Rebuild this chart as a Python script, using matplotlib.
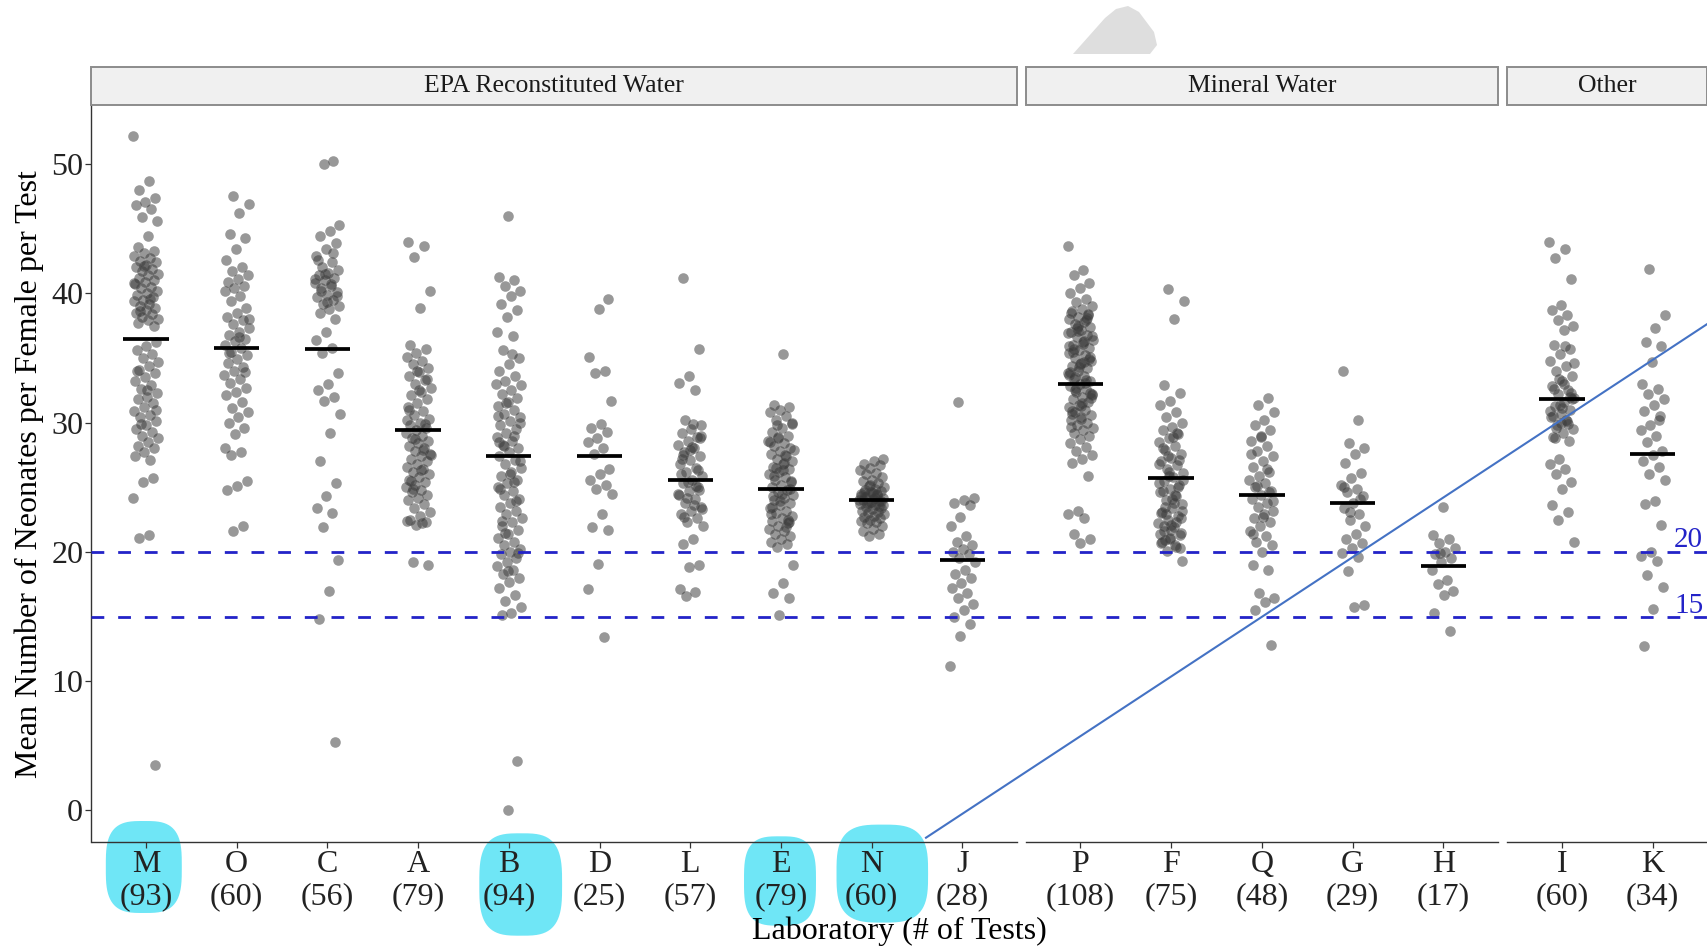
import numpy as np
import matplotlib
matplotlib.use("Agg")
import matplotlib.pyplot as plt
from matplotlib.patches import Polygon, Rectangle
from matplotlib.lines import Line2D

plt.rcParams['font.family'] = ['Liberation Serif', 'DejaVu Serif']

# ---------------- data ----------------
groups = ["EPA Reconstituted Water", "Mineral Water", "Other"]
group_labs = [["M", "O", "C", "A", "B", "D", "L", "E", "N", "J"],
              ["P", "F", "Q", "G", "H"],
              ["I", "K"]]
n_tests = {"M": 93, "O": 60, "C": 56, "A": 79, "B": 94, "D": 25, "L": 57, "E": 79,
           "N": 60, "J": 28, "P": 108, "F": 75, "Q": 48, "G": 29, "H": 17, "I": 60, "K": 34}
lab_means = {"M": 36.5, "O": 35.8, "C": 35.7, "A": 29.4, "B": 27.4, "D": 27.4, "L": 25.6,
             "E": 24.9, "N": 24.0, "J": 19.4, "P": 33.0, "F": 25.7, "Q": 24.4, "G": 23.8,
             "H": 18.9, "I": 31.8, "K": 27.6}
ref_lines = [20, 15]

vals_M = [52.2, 48.7, 48.0, 47.4, 47.1, 46.8, 46.5, 45.9, 45.6, 44.4,
          43.6, 43.3, 43.1, 42.9, 42.7, 42.5, 42.4, 42.2, 42.0, 41.9,
          41.7, 41.5, 41.4, 41.2, 41.0, 40.9, 40.7, 40.5, 40.4, 40.2,
          40.0, 39.9, 39.7, 39.5, 39.4, 39.2, 39.0, 38.9, 38.7, 38.5,
          38.4, 38.2, 38.0, 37.9, 37.7, 37.5, 42.1, 40.8, 39.6, 38.6,
          36.2, 35.9, 35.6, 35.3, 35.0, 34.7, 34.4, 34.1, 33.8, 33.5,
          33.2, 32.9, 32.6, 32.3, 32.0, 31.8, 31.5, 31.2, 30.9, 30.6,
          30.4, 30.1, 29.8, 29.5, 29.3, 29.0, 28.8, 28.5, 28.2, 28.0,
          27.7, 27.4, 27.1, 29.9, 31.0, 32.5, 34.0, 25.7, 25.4, 24.2,
          21.3, 21.1, 3.5]
vals_O = [47.5, 46.9, 46.2, 44.6, 44.3, 43.4, 42.6, 42.0, 41.7, 41.4,
          41.1, 40.9, 40.6, 40.4, 40.2, 39.8, 39.4, 38.9, 38.5, 38.2,
          37.9, 37.6, 37.3, 37.0, 36.8, 36.5, 36.3, 36.0, 35.8, 35.5,
          35.2, 34.9, 34.6, 34.3, 34.0, 33.7, 33.4, 33.1, 32.7, 32.4,
          32.1, 31.6, 31.1, 30.8, 30.4, 30.0, 29.6, 29.1, 28.0, 27.7,
          27.5, 25.5, 25.1, 24.8, 22.0, 21.6, 38.0, 36.6, 35.4, 33.9]
vals_C = [50.2, 50.0, 45.3, 44.8, 44.4, 43.9, 43.4, 42.9, 42.4, 42.0,
          41.8, 41.6, 41.4, 41.2, 41.0, 40.8, 40.6, 40.4, 40.1, 39.9,
          39.7, 39.5, 39.2, 39.0, 38.8, 38.5, 38.0, 37.0, 36.4, 35.8,
          35.4, 33.8, 33.0, 32.5, 32.0, 31.7, 30.7, 29.2, 27.0, 25.3,
          24.3, 23.4, 23.0, 21.9, 19.4, 17.0, 14.8, 5.3, 41.5, 41.1,
          40.7, 40.2, 39.8, 39.3, 42.6, 43.1]
vals_A = [44.0, 43.7, 42.8, 40.2, 38.9, 36.0, 35.7, 35.4, 35.1, 34.8,
          34.5, 34.2, 33.9, 33.6, 33.3, 33.0, 32.7, 32.4, 32.1, 31.8,
          31.5, 31.2, 30.9, 30.6, 30.3, 30.0, 29.8, 29.6, 29.4, 29.2,
          29.0, 28.8, 28.6, 28.4, 28.2, 28.0, 27.8, 27.6, 27.4, 27.2,
          27.0, 26.8, 26.6, 26.4, 26.2, 26.0, 25.8, 25.6, 25.4, 25.2,
          25.0, 24.8, 24.6, 24.4, 24.2, 24.0, 23.7, 23.4, 23.1, 22.8,
          22.5, 22.3, 22.1, 22.4, 22.2, 19.2, 19.0, 32.5, 31.0, 29.9,
          28.7, 27.5, 26.3, 25.5, 33.4, 34.0, 30.2, 27.9, 24.9]
vals_B = [46.0, 41.3, 41.0, 40.6, 40.2, 39.8, 39.2, 38.7, 38.2, 37.0,
          36.7, 35.6, 35.0, 34.5, 34.0, 33.6, 33.2, 32.9, 32.5, 32.2,
          31.9, 31.6, 31.3, 31.0, 30.7, 30.4, 30.1, 29.8, 29.5, 29.2,
          28.9, 28.6, 28.3, 28.0, 27.7, 27.4, 27.1, 26.8, 26.5, 26.2,
          25.9, 25.6, 25.3, 25.0, 24.7, 24.4, 24.1, 23.8, 23.5, 23.2,
          22.9, 22.6, 22.3, 22.0, 21.7, 21.4, 21.1, 20.8, 20.5, 20.2,
          20.0, 19.8, 19.5, 19.2, 18.9, 18.6, 18.3, 18.0, 17.7, 17.2,
          16.7, 16.2, 15.7, 15.3, 15.1, 3.8, 0.0, 30.5, 29.0, 28.2,
          27.0, 26.0, 24.9, 23.9, 31.5, 33.0, 35.3, 22.4, 19.9, 18.5,
          28.5, 25.4, 21.5, 30.0]
vals_D = [39.6, 38.8, 35.1, 34.0, 33.8, 31.7, 29.9, 29.6, 29.3, 28.8,
          28.5, 28.0, 27.6, 26.4, 26.0, 25.6, 25.2, 24.9, 24.5, 22.9,
          21.9, 21.7, 19.1, 17.1, 13.4]
vals_L = [41.2, 35.7, 33.6, 33.1, 32.5, 30.2, 29.8, 29.5, 29.2, 28.9,
          28.6, 28.3, 28.0, 27.7, 27.4, 27.1, 26.8, 26.5, 26.2, 25.9,
          25.6, 25.3, 25.0, 24.7, 24.4, 24.1, 23.8, 23.5, 23.2, 22.9,
          22.6, 22.3, 22.0, 21.0, 20.6, 19.0, 18.8, 17.1, 16.9, 16.6,
          29.0, 28.1, 27.2, 26.3, 25.4, 24.5, 23.6, 22.7, 28.8, 27.9,
          26.0, 25.1, 24.2, 23.3, 29.9, 27.5, 24.8]
vals_E = [35.3, 31.4, 31.2, 31.0, 30.8, 30.5, 30.2, 29.9, 29.6, 29.3,
          29.0, 28.8, 28.6, 28.4, 28.2, 28.0, 27.8, 27.6, 27.4, 27.2,
          27.0, 26.8, 26.6, 26.4, 26.2, 26.0, 25.8, 25.6, 25.4, 25.2,
          25.0, 24.8, 24.6, 24.4, 24.2, 24.0, 23.8, 23.6, 23.4, 23.2,
          23.0, 22.8, 22.6, 22.4, 22.2, 22.0, 21.8, 21.6, 21.4, 21.2,
          21.0, 20.8, 20.6, 20.4, 19.0, 17.6, 16.8, 16.4, 15.1, 28.5,
          27.5, 26.5, 25.5, 24.5, 23.5, 22.5, 28.9, 27.9, 26.9, 25.9,
          24.9, 23.9, 22.9, 21.9, 29.8, 30.0, 26.3, 24.3, 22.3]
vals_N = [27.2, 27.0, 26.8, 26.7, 26.5, 26.3, 26.1, 26.0, 25.8, 25.6,
          25.5, 25.3, 25.1, 25.0, 24.9, 24.8, 24.7, 24.6, 24.5, 24.4,
          24.3, 24.2, 24.1, 24.0, 23.9, 23.8, 23.7, 23.6, 23.5, 23.4,
          23.3, 23.2, 23.1, 23.0, 22.9, 22.8, 22.7, 22.6, 22.5, 22.4,
          22.3, 22.2, 22.0, 21.8, 21.6, 21.4, 21.2, 24.05, 24.15, 24.25,
          23.95, 23.85, 24.35, 24.45, 23.75, 23.65, 24.55, 24.65, 23.55, 25.2]
vals_J = [31.6, 24.2, 24.0, 23.8, 23.6, 22.7, 22.0, 21.2, 20.8, 20.5,
          20.2, 20.0, 19.8, 19.5, 19.2, 18.6, 18.3, 18.0, 17.6, 17.2,
          16.8, 16.4, 16.0, 15.5, 15.0, 14.4, 13.5, 11.2]
vals_P = [43.7, 41.8, 41.4, 40.8, 40.4, 40.0, 39.6, 39.3, 39.0, 38.8,
          38.6, 38.4, 38.2, 38.0, 37.8, 37.6, 37.4, 37.2, 37.0, 36.8,
          36.6, 36.4, 36.2, 36.0, 35.8, 35.6, 35.4, 35.2, 35.0, 34.8,
          34.6, 34.4, 34.2, 34.0, 33.8, 33.6, 33.4, 33.2, 33.0, 32.8,
          32.6, 32.4, 32.2, 32.0, 31.8, 31.6, 31.4, 31.2, 31.0, 30.8,
          30.6, 30.4, 30.2, 30.0, 29.8, 29.6, 29.4, 29.2, 29.0, 28.7,
          28.4, 28.1, 27.8, 27.5, 27.2, 26.9, 25.9, 23.2, 22.9, 22.6,
          21.4, 21.0, 20.7, 38.5, 37.9, 37.3, 36.7, 36.1, 35.5, 34.9,
          34.3, 33.7, 33.1, 32.5, 31.9, 31.3, 30.7, 38.1, 37.5, 36.9,
          36.3, 35.7, 35.1, 34.5, 33.9, 33.3, 32.7, 32.1, 31.5, 30.9,
          38.3, 37.1, 35.9, 34.7, 33.5, 32.3, 30.3, 29.7]
vals_F = [40.3, 39.4, 38.0, 32.9, 32.3, 31.7, 31.4, 30.8, 30.4, 30.0,
          29.7, 29.4, 29.1, 28.8, 28.5, 28.2, 27.9, 27.6, 27.3, 27.0,
          26.7, 26.4, 26.1, 25.8, 25.5, 25.2, 24.9, 24.6, 24.3, 24.0,
          23.7, 23.4, 23.1, 22.8, 22.5, 22.2, 21.9, 21.6, 21.3, 21.0,
          20.7, 20.4, 20.1, 19.3, 28.9, 28.0, 27.1, 26.2, 25.3, 24.4,
          23.5, 22.6, 21.7, 20.8, 29.2, 27.4, 25.6, 23.8, 22.0, 20.3,
          21.1, 21.4, 22.3, 22.9, 23.2, 24.1, 24.7, 25.0, 25.9, 26.8,
          20.5, 20.9, 21.5, 22.1, 23.0]
vals_Q = [31.9, 31.4, 30.8, 30.2, 29.8, 29.4, 29.0, 28.6, 28.2, 27.8,
          27.4, 27.0, 26.6, 26.2, 25.9, 25.6, 25.3, 25.0, 24.7, 24.4,
          24.1, 23.8, 23.5, 23.2, 22.9, 22.6, 22.3, 22.0, 21.6, 21.2,
          20.8, 20.5, 20.0, 19.0, 18.6, 16.8, 16.4, 16.1, 15.5, 12.8,
          28.9, 27.6, 26.4, 25.1, 23.9, 22.7, 21.4, 24.6]
vals_G = [34.0, 30.2, 28.4, 28.0, 27.6, 26.9, 26.1, 25.7, 25.2, 24.9,
          24.6, 24.3, 23.8, 23.4, 22.9, 22.5, 22.0, 21.4, 21.0, 20.7,
          20.3, 19.9, 19.6, 18.5, 15.9, 15.7, 25.0, 24.1, 23.1]
vals_H = [23.5, 21.3, 21.0, 20.7, 20.3, 20.0, 19.8, 19.5, 19.2, 18.6,
          17.8, 17.5, 17.0, 16.7, 15.3, 13.9, 19.9]
vals_I = [44.0, 43.4, 42.7, 41.1, 39.1, 38.7, 38.3, 37.9, 37.5, 37.2,
          36.0, 35.7, 35.3, 34.8, 34.4, 34.0, 33.6, 33.2, 32.8, 32.5,
          32.2, 31.9, 31.6, 31.3, 31.0, 30.7, 30.4, 30.1, 29.8, 29.5,
          29.2, 28.9, 28.6, 27.2, 26.8, 26.4, 26.0, 25.4, 24.9, 23.6,
          23.1, 22.5, 20.8, 33.0, 32.6, 32.0, 31.4, 30.9, 30.2, 29.6,
          31.8, 31.1, 30.5, 29.9, 33.4, 34.6, 35.9, 28.8, 32.3, 30.0]
vals_K = [41.9, 38.3, 37.3, 36.2, 35.9, 34.7, 33.0, 32.6, 32.2, 31.8,
          31.4, 30.9, 30.5, 29.8, 29.4, 29.0, 28.5, 27.8, 27.5, 27.0,
          26.6, 26.0, 25.6, 23.9, 23.7, 22.1, 20.0, 19.7, 19.3, 18.2,
          17.3, 15.6, 12.7, 30.2]

lab_values = {"M": vals_M, "O": vals_O, "C": vals_C, "A": vals_A, "B": vals_B,
              "D": vals_D, "L": vals_L, "E": vals_E, "N": vals_N, "J": vals_J,
              "P": vals_P, "F": vals_F, "Q": vals_Q, "G": vals_G, "H": vals_H,
              "I": vals_I, "K": vals_K}

# ---------------- layout (pixels) ----------------
W, H = 1708, 947
fig = plt.figure(figsize=(W / 100, H / 100), dpi=100)
fig.patch.set_facecolor("white")

unit = 90.72
panel_left = [91.5, 1026.0, 1507.5]
y_top, y_bot = 104.6, 842.0
strip_top = 67.5

def fx(px):
    return px / W

def fy(py):
    return 1 - py / H

point_color = "#3a3a3a"
blue = "#2323c8"
tick_fs = 23

axes = []
for gi, labs in enumerate(group_labs):
    n = len(labs)
    x0 = panel_left[gi]
    wpx = (n + 0.2) * unit
    ax = fig.add_axes([fx(x0), fy(y_bot), wpx / W, (y_bot - y_top) / H])
    ax.patch.set_alpha(0)
    axes.append(ax)
    for i, lab in enumerate(labs):
        v = np.asarray(lab_values[lab], dtype=float)
        k = np.arange(len(v))
        jit = (((k * 0.6180339887 + 0.37 * i) % 1.0) - 0.5) * 0.28
        ax.scatter(np.full(len(v), i + 1.0) + jit, v, s=58, color=point_color,
                   alpha=0.52, linewidths=0, zorder=2)
        ax.hlines(lab_means[lab], i + 1 - 0.25, i + 1 + 0.25, color="black",
                  lw=2.7, zorder=3)
    for r in ref_lines:
        ax.axhline(r, color=blue, lw=2.0, ls=(0, (4.6, 5.0)), zorder=4)
    ax.set_xlim(0.4, n + 0.6)
    ax.set_ylim(-2.44, 54.6)
    ax.set_xticks(np.arange(1, n + 1))
    ax.set_xticklabels([f"{l}\n({n_tests[l]})" for l in labs], fontsize=tick_fs,
                       color="#222222", linespacing=1.15)
    ax.tick_params(axis="x", length=4, width=0.9, color="#333333", pad=1.5)
    for s in ["top", "right"]:
        ax.spines[s].set_visible(False)
    ax.spines["bottom"].set_color("#333333")
    ax.spines["bottom"].set_linewidth(1.0)
    if gi == 0:
        ax.set_yticks([0, 10, 20, 30, 40, 50])
        ax.set_yticklabels(["0", "10", "20", "30", "40", "50"], fontsize=tick_fs,
                           color="#222222")
        ax.tick_params(axis="y", length=4, width=0.9, color="#333333", pad=2)
        ax.spines["left"].set_color("#333333")
        ax.spines["left"].set_linewidth(1.0)
    else:
        ax.spines["left"].set_visible(False)
        ax.tick_params(axis="y", left=False, labelleft=False)
    # strip
    fig.patches.append(Rectangle((fx(x0), fy(y_top)), wpx / W, (y_top - strip_top) / H,
                                 transform=fig.transFigure, facecolor="#f0f0f0",
                                 edgecolor="#8c8c8c", lw=1.4, zorder=1))
    fig.text(fx(x0 + wpx / 2), fy((y_top + strip_top) / 2), groups[gi], fontsize=18.5,
             color="#1a1a1a", ha="center", va="center")

# right-side labels of the reference lines
axes[2].text(2.235, 20.9, "20", color=blue, fontsize=21, ha="left", va="center", clip_on=False)
axes[2].text(2.235, 15.85, "15", color=blue, fontsize=21, ha="left", va="center", clip_on=False)

# axis titles
fig.text(fx(29), fy(474), "Mean Number of Neonates per Female per Test", rotation=90,
         fontsize=23, ha="center", va="center", color="black")
fig.text(fx(899), fy(931), "Laboratory (# of Tests)", fontsize=23, ha="center",
         va="center", color="black")

# ---------------- annotation overlays ----------------
def blob(cx, cy, a, b, p=3.2, m=80):
    t = np.linspace(0, 2 * np.pi, m)
    xs = cx + a * np.sign(np.cos(t)) * np.abs(np.cos(t)) ** (2 / p)
    ys = cy + b * np.sign(np.sin(t)) * np.abs(np.sin(t)) ** (2 / p)
    return np.column_stack([xs / W, 1 - ys / H])

for (cx, cy, a, b) in [(143.8, 867, 38, 46), (520.7, 884.5, 41.4, 51.2),
                       (780, 881, 36, 44.7), (882.3, 873.6, 45.8, 49)]:
    fig.patches.append(Polygon(blob(cx, cy, a, b), closed=True, transform=fig.transFigure,
                               facecolor="#6fe6f6", edgecolor="none", zorder=-1))

shape = np.array([(1073, 54), (1105, 18), (1116, 9), (1128, 6), (1139, 12),
                  (1154, 32), (1157, 45), (1150, 54)], dtype=float)
fig.patches.append(Polygon(np.column_stack([shape[:, 0] / W, 1 - shape[:, 1] / H]),
                           closed=True, transform=fig.transFigure,
                           facecolor="#dedede", edgecolor="none", zorder=1))

fig.lines.append(Line2D([fx(926), fx(1708)], [fy(837.7), fy(323.5)],
                        transform=fig.transFigure, color="#4472c4", lw=1.5, zorder=10))

fig.savefig("out.png", dpi=100)
